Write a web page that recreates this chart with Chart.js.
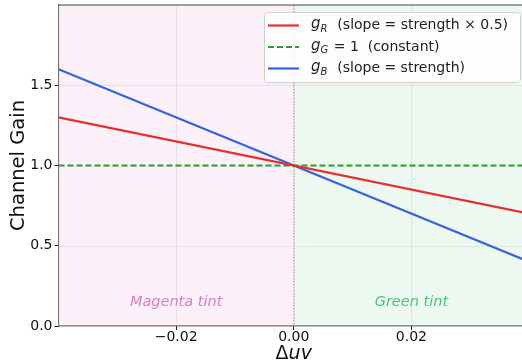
<!DOCTYPE html>
<html>
<head>
<meta charset="utf-8">
<script src="https://cdn.jsdelivr.net/npm/chart.js@4.4.1/dist/chart.umd.min.js"></script>
<style>
  html, body { margin: 0; padding: 0; background: #ffffff; overflow: hidden; }
  #wrap { width: 540px; height: 362px; }
</style>
</head>
<body>
<div id="wrap"><canvas id="c" width="540" height="362"></canvas></div>
<script>
// ---- data ----
const xValues = [-0.04, 0.04];
const gR = [1.3, 0.7];
const gG = [1.0, 1.0];
const gB = [1.6, 0.4];
const xTicks = [-0.02, 0.0, 0.02];
const yTicks = [0.0, 0.5, 1.0, 1.5];
const xRange = [-0.04, 0.04];
const yRange = [0, 2.0];
const legendSym = [['g', 'R'], ['g', 'G'], ['g', 'B']];
const legendText = ['  (slope = strength \u00d7 0.5)', ' = 1  (constant)', '  (slope = strength)'];
const regionLabels = ['Magenta tint', 'Green tint'];
const regionLabelX = [-0.02, 0.02];
const regionLabelY = [0.15, 0.15];
const xTitleParts = ['\u0394', 'uv'];

const colors = { r: '#e3312f', g: '#2e9e2e', b: '#3563e0' };
const FONT = '"DejaVu Sans", sans-serif';

const bgPlugin = {
  id: 'bgPlugin',
  beforeDatasetsDraw(chart) {
    const { ctx, chartArea: a, scales: { x } } = chart;
    const x0 = x.getPixelForValue(0);
    ctx.save();
    ctx.fillStyle = 'rgba(250,232,245,0.6)';
    ctx.fillRect(a.left, a.top, x0 - a.left, a.bottom - a.top);
    ctx.fillStyle = 'rgba(225,243,231,0.6)';
    ctx.fillRect(x0, a.top, a.right - x0, a.bottom - a.top);
    ctx.strokeStyle = 'rgba(0,0,0,0.07)';
    ctx.lineWidth = 1;
    const y = chart.scales.y;
    xTicks.forEach(v => { const p = Math.round(x.getPixelForValue(v)) + 0.5; ctx.beginPath(); ctx.moveTo(p, a.top); ctx.lineTo(p, a.bottom); ctx.stroke(); });
    yTicks.forEach(v => { const p = Math.round(y.getPixelForValue(v)) + 0.5; ctx.beginPath(); ctx.moveTo(a.left, p); ctx.lineTo(a.right, p); ctx.stroke(); });
    ctx.strokeStyle = '#9a9a9a';
    ctx.setLineDash([1.5, 1.5]);
    ctx.beginPath(); ctx.moveTo(x0, a.top); ctx.lineTo(x0, a.bottom); ctx.stroke();
    ctx.setLineDash([]);
    ctx.font = 'italic 14.5px ' + FONT;
    ctx.textAlign = 'center'; ctx.textBaseline = 'middle';
    const labelColors = ['#de7ac8', '#4cc47a'];
    regionLabels.forEach((t, i) => {
      ctx.fillStyle = labelColors[i];
      ctx.fillText(t, x.getPixelForValue(regionLabelX[i]), y.getPixelForValue(regionLabelY[i]));
    });
    ctx.restore();
  },
  afterDraw(chart) {
    const { ctx, chartArea: a, scales: { x } } = chart;
    ctx.save();
    ctx.strokeStyle = '#444';
    ctx.lineWidth = 1.2;
    ctx.beginPath(); ctx.moveTo(a.left, a.top); ctx.lineTo(a.right, a.top); ctx.stroke();
    // x-axis title: upright Delta + italic uv
    ctx.fillStyle = '#111';
    ctx.textBaseline = 'alphabetic'; ctx.textAlign = 'left';
    const f1 = '19px ' + FONT, f2 = 'italic 19px ' + FONT;
    ctx.font = f1; const w1 = ctx.measureText(xTitleParts[0]).width;
    ctx.font = f2; const w2 = ctx.measureText(xTitleParts[1]).width;
    const cx = x.getPixelForValue(0);
    let tx = cx - (w1 + w2) / 2;
    const by = 359;
    ctx.font = f1; ctx.fillText(xTitleParts[0], tx, by);
    ctx.font = f2; ctx.fillText(xTitleParts[1], tx + w1, by);
    // legend
    const txtFont = '14px ' + FONT;
    const symFont = 'italic 15px ' + FONT;
    const subFont = 'italic 10px ' + FONT;
    const widths = legendSym.map((s, i) => {
      ctx.font = symFont; let w = ctx.measureText(s[0]).width;
      ctx.font = subFont; w += ctx.measureText(s[1]).width;
      ctx.font = txtFont; w += ctx.measureText(legendText[i]).width;
      return w;
    });
    const tw = Math.max(...widths);
    const right = 520, top = 12;
    const left = Math.min(264, right - (tw + 47 + 7));
    const h = 70;
    ctx.fillStyle = 'rgba(255,255,255,0.85)';
    ctx.strokeStyle = '#d0d0d0';
    ctx.lineWidth = 1;
    ctx.beginPath();
    ctx.roundRect(left + 0.5, top + 0.5, right - left, h, 3);
    ctx.fill(); ctx.stroke();
    const dsColors = chart.data.datasets.map(d => d.borderColor);
    const dashes = chart.data.datasets.map(d => d.borderDash || []);
    legendSym.forEach((s, i) => {
      const cy = top + 13.5 + i * 21.5;
      ctx.strokeStyle = dsColors[i];
      ctx.lineWidth = 2.2;
      ctx.setLineDash(dashes[i]);
      ctx.beginPath(); ctx.moveTo(left + 4, cy); ctx.lineTo(left + 35, cy); ctx.stroke();
      ctx.setLineDash([]);
      let px = left + 47;
      ctx.fillStyle = '#222';
      ctx.textAlign = 'left'; ctx.textBaseline = 'middle';
      ctx.font = symFont; ctx.fillText(s[0], px, cy - 1); px += ctx.measureText(s[0]).width;
      ctx.font = subFont; ctx.fillText(s[1], px, cy + 3.5); px += ctx.measureText(s[1]).width + 1;
      ctx.font = txtFont; ctx.fillText(legendText[i], px, cy);
    });
    ctx.restore();
  }
};

const fmt = (v, d) => (v < 0 ? '\u2212' : '') + Math.abs(v).toFixed(d);

new Chart(document.getElementById('c'), {
  type: 'line',
  data: {
    labels: xValues,
    datasets: [
      { label: 'g_R', data: xValues.map((x, i) => ({ x, y: gR[i] })), borderColor: colors.r, borderWidth: 2.2, pointRadius: 0, fill: false },
      { label: 'g_G', data: xValues.map((x, i) => ({ x, y: gG[i] })), borderColor: colors.g, borderWidth: 2.2, borderDash: [6, 3], pointRadius: 0, fill: false },
      { label: 'g_B', data: xValues.map((x, i) => ({ x, y: gB[i] })), borderColor: colors.b, borderWidth: 2.2, pointRadius: 0, fill: false }
    ]
  },
  options: {
    responsive: false,
    animation: false,
    devicePixelRatio: 1,
    layout: { padding: { top: 5, right: 11, left: 0, bottom: 0 } },
    plugins: { legend: { display: false }, tooltip: { enabled: false } },
    scales: {
      x: {
        type: 'linear', min: xRange[0], max: xRange[1],
        afterBuildTicks: s => { s.ticks = xTicks.map(v => ({ value: v })); },
        afterFit: s => { s.height = 36; s.paddingLeft = 0; s.paddingRight = 0; },
        grid: { display: true, drawOnChartArea: false, drawTicks: true, tickLength: 4, tickColor: '#222' },
        border: { display: true, color: '#111', width: 1.2 },
        ticks: { color: '#111', font: { family: FONT, size: 14 }, padding: -1, maxRotation: 0, callback: v => fmt(v, 2) },
        title: { display: false }
      },
      y: {
        type: 'linear', min: yRange[0], max: yRange[1],
        afterBuildTicks: s => { s.ticks = yTicks.map(v => ({ value: v })); },
        afterFit: s => { s.width = 58.5; s.paddingTop = 0; s.paddingBottom = 0; },
        grid: { display: true, drawOnChartArea: false, drawTicks: true, tickLength: 4, tickColor: '#222' },
        border: { display: true, color: '#444', width: 1.2 },
        ticks: { color: '#111', font: { family: FONT, size: 14 }, padding: 2, callback: v => v.toFixed(1) },
        title: { display: true, text: 'Channel Gain', color: '#111', font: { family: FONT, size: 19.5 }, padding: { top: 7, bottom: 8 } }
      }
    }
  },
  plugins: [bgPlugin]
});
</script>
</body>
</html>
